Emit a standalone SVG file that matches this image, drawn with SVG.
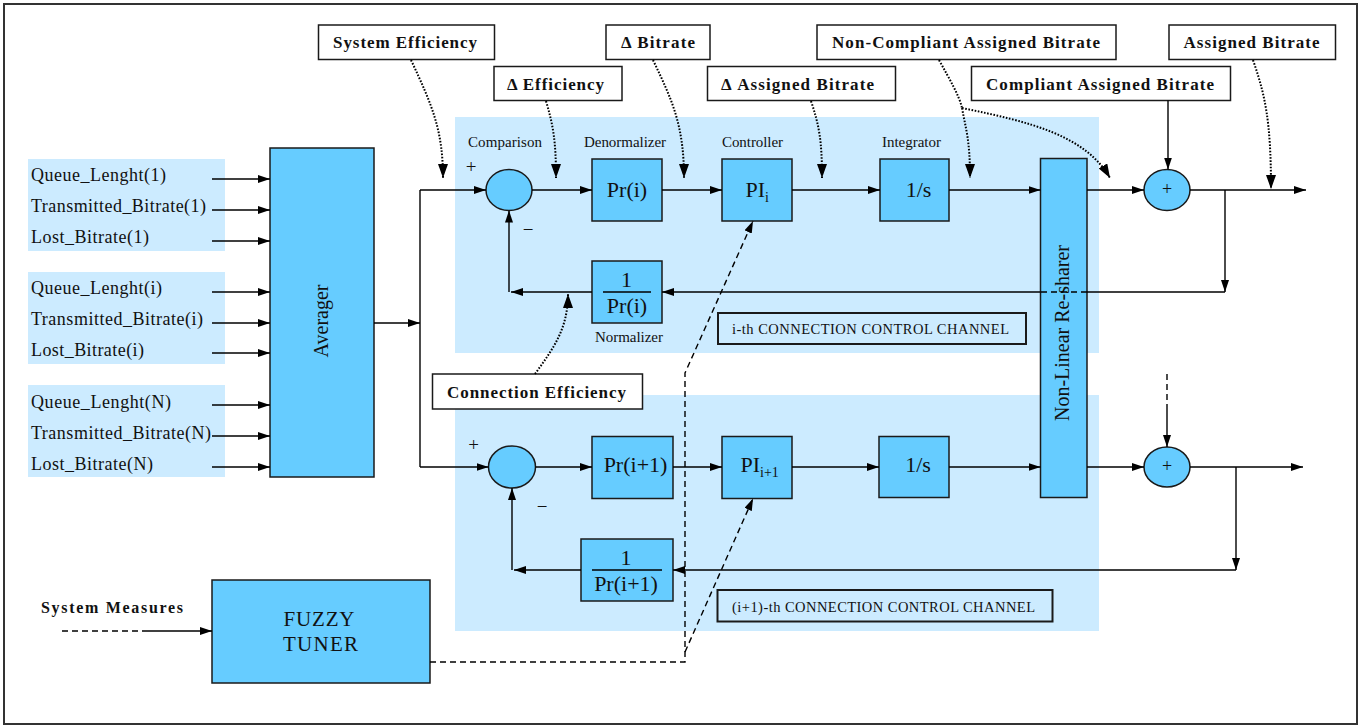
<svg xmlns="http://www.w3.org/2000/svg" width="1367" height="727" viewBox="0 0 1367 727">
<style>
text{font-family:"Liberation Serif","Times New Roman",serif;fill:#111}
.lb{fill:#CCEBFF}
.blk{fill:#66CCFF;stroke:#1a1a1a;stroke-width:1.5}
.lbl{fill:#fff;stroke:#1a1a1a;stroke-width:1.5}
.ch{fill:none;stroke:#1a1a1a;stroke-width:2}
.w{stroke:#000;stroke-width:1.4;fill:none}
.dot{stroke:#000;stroke-width:2;fill:none;stroke-dasharray:1.6 1.6}
.dash{stroke:#000;stroke-width:1.4;fill:none;stroke-dasharray:6 4}
.in{font-size:18px}
.tl{font-size:17px;font-weight:bold}
.sm{font-size:15px}
.big{font-size:22px}
.cc{font-size:14.5px}
</style>
<defs>
<marker id="a" markerUnits="userSpaceOnUse" markerWidth="12" markerHeight="8" refX="12" refY="4" orient="auto" viewBox="0 0 12 8"><path d="M0,0L12,4L0,8z" fill="#000"/></marker>
<marker id="d" markerUnits="userSpaceOnUse" markerWidth="14" markerHeight="10" refX="14" refY="5" orient="auto" viewBox="0 0 14 10"><path d="M0,0L14,5L0,10z" fill="#000"/></marker>
</defs>
<rect x="4" y="4" width="1353" height="720" fill="#fff" stroke="#333" stroke-width="2"/>

<g id="backgrounds">
<rect class="lb" x="28" y="159" width="197" height="92"/>
<rect class="lb" x="28" y="272" width="197" height="92"/>
<rect class="lb" x="28" y="385" width="197" height="92"/>
<rect class="lb" x="455" y="117" width="644" height="236"/>
<rect class="lb" x="455" y="395" width="644" height="236"/>
</g>

<g id="inputs">
<text class="in" x="31" y="181" textLength="135" lengthAdjust="spacing">Queue_Lenght(1)</text>
<text class="in" x="31" y="212" textLength="175" lengthAdjust="spacing">Transmitted_Bitrate(1)</text>
<text class="in" x="31" y="243" textLength="118" lengthAdjust="spacing">Lost_Bitrate(1)</text>
<text class="in" x="31" y="294" textLength="131" lengthAdjust="spacing">Queue_Lenght(i)</text>
<text class="in" x="31" y="325" textLength="172" lengthAdjust="spacing">Transmitted_Bitrate(i)</text>
<text class="in" x="31" y="356" textLength="113" lengthAdjust="spacing">Lost_Bitrate(i)</text>
<text class="in" x="31" y="408" textLength="140" lengthAdjust="spacing">Queue_Lenght(N)</text>
<text class="in" x="31" y="439" textLength="180" lengthAdjust="spacing">Transmitted_Bitrate(N)</text>
<text class="in" x="31" y="470" textLength="122" lengthAdjust="spacing">Lost_Bitrate(N)</text>
</g>

<g id="averager">
<rect class="blk" x="270" y="148" width="104" height="329"/>
<text transform="translate(328,321) rotate(-90)" text-anchor="middle" font-size="20">Averager</text>
</g>

<g id="labels-top">
<g id="lbl-sys-eff"><rect class="lbl" x="318.5" y="25" width="176" height="34.5"/><text class="tl" x="333" y="48" textLength="144" lengthAdjust="spacing">System Efficiency</text></g>
<g id="lbl-d-eff"><rect class="lbl" x="494" y="66.5" width="128" height="34"/><text class="tl" x="507" y="90" textLength="97" lengthAdjust="spacing">Δ Efficiency</text></g>
<g id="lbl-d-bit"><rect class="lbl" x="606" y="25" width="104" height="34.5"/><text class="tl" x="621" y="48" textLength="74" lengthAdjust="spacing">Δ Bitrate</text></g>
<g id="lbl-d-ass"><rect class="lbl" x="707.5" y="66.5" width="188" height="34"/><text class="tl" x="721" y="90" textLength="153" lengthAdjust="spacing">Δ Assigned Bitrate</text></g>
<g id="lbl-noncomp"><rect class="lbl" x="817" y="25" width="299" height="34.5"/><text class="tl" x="832" y="48" textLength="268" lengthAdjust="spacing">Non-Compliant Assigned Bitrate</text></g>
<g id="lbl-comp"><rect class="lbl" x="971.5" y="66.5" width="259" height="34"/><text class="tl" x="986" y="90" textLength="228" lengthAdjust="spacing">Compliant Assigned Bitrate</text></g>
<g id="lbl-ass"><rect class="lbl" x="1169" y="25" width="166.5" height="34.5"/><text class="tl" x="1183.5" y="48" textLength="136" lengthAdjust="spacing">Assigned Bitrate</text></g>
<g id="lbl-conn-eff"><rect class="lbl" x="432.5" y="374" width="210" height="35"/><text class="tl" x="447" y="398" textLength="179" lengthAdjust="spacing">Connection Efficiency</text></g>
<g id="lbl-sys-meas"><text x="41" y="613" font-size="16" font-weight="bold" textLength="142" lengthAdjust="spacing">System Measures</text></g>
</g>

<g id="channel-i">
<text class="sm" x="468" y="147" textLength="74" lengthAdjust="spacing">Comparison</text>
<text class="sm" x="584" y="147" textLength="82" lengthAdjust="spacing">Denormalizer</text>
<text class="sm" x="722" y="147" textLength="61" lengthAdjust="spacing">Controller</text>
<text class="sm" x="882" y="147" textLength="59" lengthAdjust="spacing">Integrator</text>
<text class="sm" x="595" y="342" textLength="68" lengthAdjust="spacing">Normalizer</text>
<text x="471" y="173" font-size="19" text-anchor="middle">+</text>
<text x="528" y="236" font-size="19" text-anchor="middle">−</text>
<g id="sum-i"><ellipse class="blk" cx="509" cy="190" rx="23" ry="20.5"/></g>
<g id="pr-i"><rect class="blk" x="592" y="159" width="70" height="62"/><text class="big" x="627" y="197" text-anchor="middle">Pr(i)</text></g>
<g id="pi-i"><rect class="blk" x="722" y="159" width="70" height="62"/><text class="big" x="745.5" y="197">PI<tspan font-size="14" dy="5">i</tspan></text></g>
<g id="int-i"><rect class="blk" x="880" y="159" width="69" height="62"/><text class="big" x="918.5" y="197" text-anchor="middle">1/s</text></g>
<g id="norm-i"><rect class="blk" x="592" y="261" width="70" height="62"/><text class="big" x="626.5" y="287" text-anchor="middle">1</text><line x1="603" y1="292" x2="651" y2="292" stroke="#000" stroke-width="1.4"/><text class="big" x="627" y="313" text-anchor="middle">Pr(i)</text></g>
<g id="cc-i"><rect class="ch" x="718" y="313" width="308" height="31"/><text class="cc" x="732" y="333.5" textLength="277" lengthAdjust="spacing">i-th CONNECTION CONTROL CHANNEL</text></g>
</g>

<g id="channel-i1">
<text x="473.5" y="451" font-size="19" text-anchor="middle">+</text>
<text x="542" y="513" font-size="19" text-anchor="middle">−</text>
<g id="sum-i1"><ellipse class="blk" cx="512" cy="467" rx="23.5" ry="21"/></g>
<g id="pr-i1"><rect class="blk" x="592" y="436.5" width="81" height="62"/><text class="big" x="635.5" y="472" text-anchor="middle">Pr(i+1)</text></g>
<g id="pi-i1"><rect class="blk" x="722" y="436.5" width="70" height="62"/><text class="big" x="740.5" y="472">PI<tspan font-size="14" dy="5">i+1</tspan></text></g>
<g id="int-i1"><rect class="blk" x="879" y="436.5" width="70" height="61"/><text class="big" x="918" y="472" text-anchor="middle">1/s</text></g>
<g id="norm-i1"><rect class="blk" x="581" y="539" width="92" height="62"/><text class="big" x="626" y="565" text-anchor="middle">1</text><line x1="592" y1="570" x2="662" y2="570" stroke="#000" stroke-width="1.4"/><text class="big" x="626" y="591" text-anchor="middle">Pr(i+1)</text></g>
<g id="cc-i1"><rect class="ch" x="717.5" y="590" width="335" height="31.5"/><text class="cc" x="732" y="611.5" textLength="303" lengthAdjust="spacing">(i+1)-th CONNECTION CONTROL CHANNEL</text></g>
</g>

<g id="resharer">
<rect class="blk" x="1040.5" y="158.5" width="46.5" height="339"/>
<text transform="translate(1069,333) rotate(-90)" text-anchor="middle" font-size="20">Non-Linear Re-sharer</text>
</g>

<g id="sum-out-i"><ellipse class="blk" cx="1167" cy="190" rx="23" ry="20.5"/><text x="1167" y="195" font-size="18" text-anchor="middle">+</text></g>
<g id="sum-out-i1"><ellipse class="blk" cx="1167" cy="467" rx="23" ry="20"/><text x="1167" y="472" font-size="18" text-anchor="middle">+</text></g>

<g id="fuzzy">
<rect class="blk" x="212" y="580" width="218" height="103"/>
<text x="283.5" y="626" font-size="21" textLength="71" lengthAdjust="spacing">FUZZY</text>
<text x="283" y="651" font-size="21" textLength="75" lengthAdjust="spacing">TUNER</text>
</g>

<g id="connectors">
<path class="w" marker-end="url(#a)" d="M212,179H270"/>
<path class="w" marker-end="url(#a)" d="M212,210H270"/>
<path class="w" marker-end="url(#a)" d="M212,241H270"/>
<path class="w" marker-end="url(#a)" d="M212,292H270"/>
<path class="w" marker-end="url(#a)" d="M212,323H270"/>
<path class="w" marker-end="url(#a)" d="M212,353H270"/>
<path class="w" marker-end="url(#a)" d="M212,405H270"/>
<path class="w" marker-end="url(#a)" d="M212,436H270"/>
<path class="w" marker-end="url(#a)" d="M212,467H270"/>
<path class="w" marker-end="url(#a)" d="M374,323H420"/>
<path class="w" d="M420,190V467"/>
<path class="w" marker-end="url(#a)" d="M420,190H486"/>
<path class="w" marker-end="url(#a)" d="M532,190H592"/>
<path class="w" marker-end="url(#a)" d="M662,190H722"/>
<path class="w" marker-end="url(#a)" d="M792,190H880"/>
<path class="w" marker-end="url(#a)" d="M949,190H1040.5"/>
<path class="w" marker-end="url(#a)" d="M1087,190H1144"/>
<path class="w" marker-end="url(#a)" d="M1190,190H1306"/>
<path class="w" marker-end="url(#a)" d="M1225,190V292"/>
<path class="w" d="M1225,292H1087"/>
<path class="dash" d="M1087,292H1040.5" stroke-dasharray="5 3"/>
<path class="w" marker-end="url(#a)" d="M1040.5,292H662"/>
<path class="w" marker-end="url(#a)" d="M592,292H511"/>
<path class="w" marker-end="url(#a)" d="M509,292V210.5"/>
<path class="w" marker-end="url(#a)" d="M1168,100.5V169.5"/>
<path class="w" marker-end="url(#a)" d="M420,467H488.5"/>
<path class="w" marker-end="url(#a)" d="M535.5,467H592"/>
<path class="w" marker-end="url(#a)" d="M673,467H722"/>
<path class="w" marker-end="url(#a)" d="M792,467H879"/>
<path class="w" marker-end="url(#a)" d="M949,467H1040.5"/>
<path class="w" marker-end="url(#a)" d="M1087,467H1144"/>
<path class="w" marker-end="url(#a)" d="M1190,467H1303"/>
<path class="w" marker-end="url(#a)" d="M1236,467V570"/>
<path class="w" marker-end="url(#a)" d="M1236,570H673"/>
<path class="w" marker-end="url(#a)" d="M581,570H514"/>
<path class="w" marker-end="url(#a)" d="M512,570V488"/>
<path class="dash" d="M1167,374V406"/>
<path class="w" marker-end="url(#a)" d="M1167,406V447"/>
<path class="dash" d="M62,631H143"/>
<path class="w" marker-end="url(#a)" d="M143,631H212"/>
<path class="dash" marker-end="url(#a)" d="M430,662H685V373L753,221"/>
<path class="dash" marker-end="url(#a)" d="M685,652L753,498.5"/>
<path class="dot" marker-end="url(#d)" d="M411,60C432,105 443,130 443,178"/>
<path class="dot" marker-end="url(#d)" d="M546,101C553,125 556,140 556,178"/>
<path class="dot" marker-end="url(#d)" d="M653,60C672,100 684,125 684,178"/>
<path class="dot" marker-end="url(#d)" d="M811,101C819,125 822,140 822,178"/>
<path class="dot" d="M939,60C950,80 959,95 962,108"/>
<path class="dot" marker-end="url(#d)" d="M962,108C966,130 970,140 970,178"/>
<path class="dot" marker-end="url(#d)" d="M962,108C1030,122 1085,135 1110,178"/>
<path class="dot" marker-end="url(#d)" d="M1253,60C1265,95 1271,120 1271,189"/>
<path class="dot" marker-end="url(#d)" d="M535,374C552,350 568,330 568,294"/>
</g>
</svg>
